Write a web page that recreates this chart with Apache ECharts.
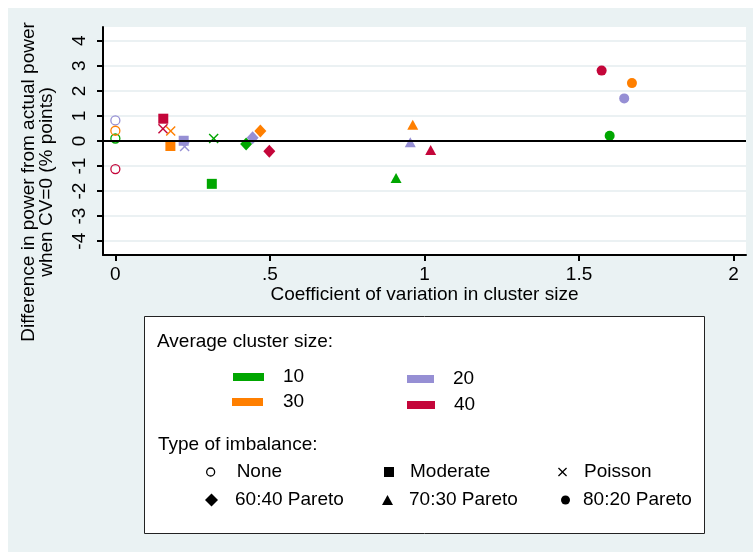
<!DOCTYPE html>
<html>
<head>
<meta charset="utf-8">
<script src="https://cdn.jsdelivr.net/npm/echarts@6/dist/echarts.min.js"></script>
<style>
    html, body { margin: 0; padding: 0; background: #fff; }
    #chart { width: 753px; height: 552px; }
</style>
</head>
<body>
<div id="chart"></div>
<script>
const clusterSizes = ['10', '20', '30', '40'];
const sizeColors = ['#00a600', '#968fd4', '#ff7f00', '#c4063a'];
const imbalanceTypes = ['None', 'Moderate', 'Poisson', '60:40 Pareto', '70:30 Pareto', '80:20 Pareto'];

// CV of cluster size and power difference, one entry per imbalance type
const cv10 = [0, 0.312, 0.318, 0.423, 0.908, 1.599];
const diff10 = [0.10, -1.71, 0.10, -0.12, -1.48, 0.21];
const cv20 = [0, 0.221, 0.224, 0.444, 0.954, 1.646];
const diff20 = [0.82, 0.01, -0.22, 0.13, -0.05, 1.70];
const cv30 = [0, 0.178, 0.179, 0.469, 0.962, 1.671];
const diff30 = [0.41, -0.20, 0.40, 0.40, 0.65, 2.31];
const cv40 = [0, 0.155, 0.154, 0.498, 1.02, 1.573];
const diff40 = [-1.12, 0.89, 0.49, -0.41, -0.36, 2.81];

const xTicks = [0, 0.5, 1, 1.5, 2];
const yTicks = [-4, -3, -2, -1, 0, 1, 2, 3, 4];

const cvBySize = [cv10, cv20, cv30, cv40];
const diffBySize = [diff10, diff20, diff30, diff40];

const font = '"Liberation Sans", Arial, sans-serif';
const crossPath = 'path://M0,1L1,0L5,4L9,0L10,1L6,5L10,9L9,10L5,6L1,10L0,9L4,5Z';
const typeSymbols = ['circle', 'rect', crossPath, 'diamond', 'triangle', 'circle'];
const typeSizes = [9, 10, 10, [12, 13], [11, 10], 10];
const hollow = (color) => ({color: 'rgba(0,0,0,0)', borderColor: color, borderWidth: 1.3, opacity: 1});

// real series: one per cluster size, symbol per imbalance type
const sizeSeries = clusterSizes.map((name, i) => ({
    type: 'scatter',
    name,
    itemStyle: {color: sizeColors[i], opacity: 1},
    data: cvBySize[i].map((x, j) => ({
        value: [x, diffBySize[i][j]],
        symbol: typeSymbols[j],
        symbolSize: typeSizes[j],
        ...(j === 0 ? {itemStyle: hollow(sizeColors[i])} : {}),
    })),
    ...(i === 0 ? {
        markLine: {
            silent: true,
            symbol: 'none',
            label: {show: false},
            lineStyle: {color: '#000', width: 2, type: 'solid', opacity: 1},
            data: [{yAxis: 0}],
        },
    } : {}),
}));

// empty series so the shape legend has something to point at
const typeSeries = imbalanceTypes.map((name, j) => ({
    type: 'scatter',
    name,
    data: [],
    symbol: typeSymbols[j],
    itemStyle: j === 0 ? hollow('#000') : {color: '#000', opacity: 1},
}));

const legendItem = (name, icon, left, top, w, h, pad, itemStyle) => ({
    left, top,
    padding: 0,
    selectedMode: false,
    itemWidth: w,
    itemHeight: h,
    itemStyle: {opacity: 1},
    data: [{name, icon, ...(itemStyle ? {itemStyle} : {})}],
    textStyle: {fontFamily: font, fontSize: 19, color: '#000', lineHeight: 20, padding: [0, 0, 0, pad]},
});

const option = {
    animation: false,
    backgroundColor: '#fff',
    grid: {left: 103, right: 7, top: 27, bottom: 297, show: true, backgroundColor: '#fff', borderWidth: 0},
    xAxis: {
        type: 'value',
        min: -0.04,
        max: 2.04,
        name: 'Coefficient of variation in cluster size',
        nameLocation: 'middle',
        nameGap: 30,
        nameTextStyle: {fontFamily: font, fontSize: 19, color: '#000'},
        axisLine: {onZero: false, lineStyle: {color: '#000', width: 2}},
        axisTick: {length: 6, customValues: xTicks, lineStyle: {color: '#000', width: 2}},
        axisLabel: {
            customValues: xTicks,
            margin: 10,
            fontFamily: font, fontSize: 19, color: '#000',
            formatter: (v) => String(v).replace(/^0(?=\.)/, ''),
        },
        splitLine: {show: false},
    },
    yAxis: {
        type: 'value',
        min: -4.55,
        max: 4.55,
        axisLine: {show: true, onZero: false, lineStyle: {color: '#000', width: 2}},
        axisTick: {show: true, length: 6, customValues: yTicks, lineStyle: {color: '#000', width: 2}},
        axisLabel: {customValues: yTicks, rotate: 90, margin: 14, fontFamily: font, fontSize: 19, color: '#000'},
        splitLine: {show: true, lineStyle: {color: '#e4edef', width: 1.5}},
    },
    legend: [
        legendItem('10', 'rect', 233, 367, 31, 8, 14),
        legendItem('30', 'rect', 232, 392, 31, 8, 15),
        legendItem('20', 'rect', 407, 369, 27, 8, 14),
        legendItem('40', 'rect', 407, 395, 28, 8, 14),
        legendItem('None', 'circle', 206, 462, 8, 8, 17, hollow('#000')),
        legendItem('60:40 Pareto', 'diamond', 205, 490, 13, 13, 12),
        legendItem('Moderate', 'rect', 384, 462, 10, 10, 11),
        legendItem('70:30 Pareto', 'triangle', 382, 490, 11, 10, 11),
        legendItem('Poisson', crossPath, 558, 462, 9, 9, 12),
        legendItem('80:20 Pareto', 'circle', 561, 490, 9, 9, 8),
    ],
    graphic: [
        {type: 'rect', z: -100, silent: true, shape: {x: 8, y: 8, width: 745, height: 544}, style: {fill: '#eaf2f3'}},
        {type: 'rect', z: 1, silent: true, shape: {x: 144.5, y: 316.5, width: 560, height: 217}, style: {fill: '#fff', stroke: '#222', lineWidth: 1}},
        {type: 'text', z: 2, x: 157, y: 342, style: {text: 'Average cluster size:', fontFamily: font, fontSize: 19, fill: '#000', verticalAlign: 'middle'}},
        {type: 'text', z: 2, x: 158, y: 445, style: {text: 'Type of imbalance:', fontFamily: font, fontSize: 19, fill: '#000', verticalAlign: 'middle'}},
        {
            type: 'text', z: 2, x: 38, y: 182, rotation: Math.PI / 2,
            style: {
                text: 'Difference in power from actual power\nwhen CV=0 (% points)',
                fontFamily: font, fontSize: 19, lineHeight: 18, fill: '#000',
                align: 'center', verticalAlign: 'middle',
            },
        },
    ],
    series: [...sizeSeries, ...typeSeries],
};

const chart = echarts.init(document.getElementById('chart'));
chart.setOption(option);
</script>
</body>
</html>
